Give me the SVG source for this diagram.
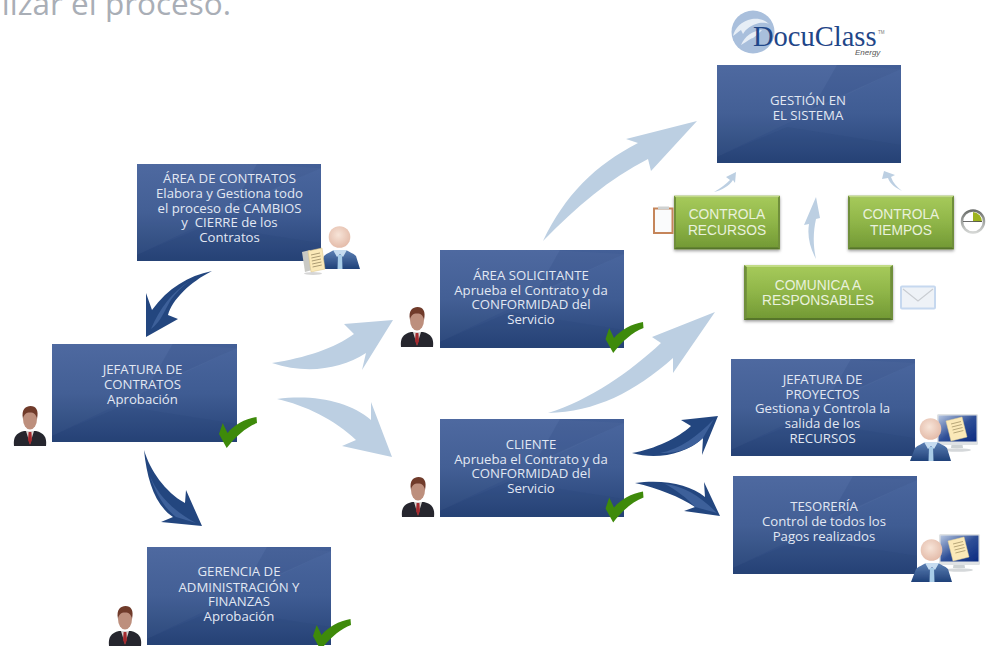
<svg xmlns="http://www.w3.org/2000/svg" width="994" height="646" viewBox="0 0 994 646">
<style>
text{font-family:"Open Sans","Liberation Sans",sans-serif}
.b{font-size:13.2px;fill:#e2e8f3;text-anchor:middle;white-space:pre}
.g{font-family:"Liberation Sans",Arial,sans-serif;font-size:13.8px;fill:#e9f1dc;text-anchor:middle}
.lt{fill:#bccfe2}
.dk{fill:#23467f}
.st{fill:#3d609a}
.title{font-size:31.5px;fill:#a9aeb6;text-anchor:end}
</style>
<defs>
<linearGradient id="bg" x1="0" y1="0" x2="0" y2="1"><stop offset="0" stop-color="#4a669e"/><stop offset=".5" stop-color="#3f5c93"/><stop offset="1" stop-color="#274377"/></linearGradient>
<linearGradient id="gg" x1="0" y1="0" x2="0" y2="1"><stop offset="0" stop-color="#a5c95a"/><stop offset=".5" stop-color="#8fb548"/><stop offset="1" stop-color="#739a35"/></linearGradient>
<linearGradient id="suit" x1="0" y1="0" x2="0" y2="1"><stop offset="0" stop-color="#5c80b4"/><stop offset="1" stop-color="#1f4179"/></linearGradient>
<linearGradient id="screen" x1="0" y1="0" x2="1" y2="1"><stop offset="0" stop-color="#b5c5e0"/><stop offset=".5" stop-color="#2f4f97"/><stop offset="1" stop-color="#0b2a80"/></linearGradient>
<linearGradient id="ring" x1="0" y1="0" x2="0" y2="1"><stop offset="0" stop-color="#6c6f6c"/><stop offset="1" stop-color="#d4d6d4"/></linearGradient>
<radialGradient id="head" cx=".45" cy=".4" r=".6"><stop offset="0" stop-color="#f7e4d8"/><stop offset="1" stop-color="#e4bcaa"/></radialGradient>
<filter id="soft" x="-15%" y="-15%" width="130%" height="130%"><feGaussianBlur stdDeviation=".7"/></filter>
<filter id="soft2" x="-10%" y="-10%" width="120%" height="120%"><feGaussianBlur stdDeviation=".3"/></filter>
<filter id="shadow" x="-10%" y="-10%" width="120%" height="125%"><feDropShadow dx="0" dy="1.5" stdDeviation="1.5" flood-color="#000" flood-opacity=".4"/></filter>
<symbol id="box" viewBox="0 0 184 98" preserveAspectRatio="none">
<rect width="184" height="98" fill="url(#bg)"/>
<polygon points="0,0 110,0 184,4 0,92" fill="#fff" opacity=".025"/>
<polygon points="120,0 184,0 184,4 95,44" fill="#1e3a70" opacity=".14"/>
<polygon points="0,92 70,62 184,80 184,98 0,98" fill="#1e3a70" opacity=".1"/>
</symbol>
<symbol id="green" viewBox="0 0 106 54" preserveAspectRatio="none">
<rect width="106" height="54" fill="#6f8f3a"/>
<rect x="2" y="2" width="102" height="50" fill="url(#gg)"/>
<polygon points="0,0 106,0 104,2 2,2" fill="#c2dc86"/>
<polygon points="0,54 106,54 104,52 2,52" fill="#57752a"/>
</symbol>
<symbol id="person" width="34" height="41" viewBox="0 0 34 41" overflow="visible">
<g filter="url(#soft)">
<path d="M1,40 C0,31 3,27 11,25 L23,25 C31,27 34,31 33,40Z" fill="#26282e"/>
<path d="M13,25 L21,25 L17,38Z" fill="#d9d6d4"/>
<path d="M15.600,26 L18.400,26 L19,34 L17,39 L15,34Z" fill="#a32a2e"/>
<ellipse cx="17" cy="13" rx="7" ry="10.500" fill="#bd8f7d"/>
<path d="M10,13 C8,3 13,0 17.500,0 C23,0 26,4 24,13 C23,8 21,6.500 17,6.500 C13,6.500 11,8 10,13Z" fill="#6f3a2c"/>
</g>
</symbol>
<symbol id="boss" width="41" height="43" viewBox="0 0 41 43" overflow="visible">
<g filter="url(#soft2)">
<path d="M0,43 L5,30 C8,27 12,26 15,24 L27,24 C30,26 34,27 37,30 L41,43Z" fill="url(#suit)"/>
<path d="M14,24 L28,24 L24,31 L21,28 L18,31Z" fill="#c6dcf0"/>
<path d="M19,29 L23,29 L23.500,43 L18.500,43Z" fill="#a9cde8"/>
<circle cx="20.500" cy="11" r="10.800" fill="url(#head)"/>
</g>
</symbol>
<symbol id="paper" width="24" height="28" viewBox="0 0 24 28" overflow="visible">
<g filter="url(#soft2)">
<polygon points="0,4 8,2 10,22 3,24" fill="#c9c9c4"/>
<polygon points="6,3 20,0 23,21 9,24" fill="#fbe9b8" stroke="#d9c287" stroke-width=".5"/>
<path d="M9,7 L18,5 M9.400,10 L18.600,8 M9.800,13 L19,11 M10.200,16 L19.400,14 M10.600,19 L19.800,17" stroke="#8a7a55" stroke-width=".7"/>
<ellipse cx="11" cy="25.500" rx="9" ry="1.500" fill="#bbb" opacity=".6"/>
</g>
</symbol>
<symbol id="monitor" width="41" height="38" viewBox="0 0 41 38" overflow="visible">
<g filter="url(#soft2)">
<polygon points="15,27 25,27 26,34 14,34" fill="#cdd2d4"/>
<ellipse cx="20" cy="36" rx="14" ry="1.800" fill="#d5d8da"/>
<rect x="0" y="0" width="41" height="31" rx="1.500" fill="#dfe2e4"/>
<rect x="1.500" y="1.500" width="38" height="26" fill="url(#screen)"/>
<polygon points="9,7 25,3 30,23 14,27" fill="#fbe9b8" stroke="#e6d49a" stroke-width=".5"/>
<path d="M14,10 L24,7.500 M14.800,13 L24.800,10.500 M15.600,16 L25.600,13.500 M16.400,19 L26.400,16.500" stroke="#9b8a5d" stroke-width=".7"/>
</g>
</symbol>
<symbol id="check" width="38" height="31" viewBox="0 0 38 31" overflow="visible">
<path d="M0,17 L3.700,6 L8.500,16 C15,8 26,2 37.500,0 L38,6 C27,10 16,20 7.700,31Z" fill="#3e8a0a"/>
</symbol>
</defs>

<text class="title" x="231" y="15">alizar el proceso.</text>

<g id="logo">
<circle cx="753" cy="32" r="21.500" fill="#a9bfdc"/>
<path d="M733,36 C735,28 741,21 752,19 C759,18 765,20 769,24 C764,22 759,23 756,24 C750,26 746,29 743,34 L741,30 C738,32 736,34 733,36Z" fill="#e7eef6"/>
<path d="M741,45 C745,36 752,31 762,30 C759,33 756,36 753,38 C751,38 748,41 741,45Z" fill="#e7eef6"/>
<text x="753" y="46" font-size="28.500" fill="#1f4688" style="font-family:'Liberation Serif',serif">DocuClass</text>
<text x="878" y="34" font-size="4.500" fill="#777" style="font-family:'Liberation Sans',sans-serif">TM</text>
<text x="855" y="55" font-size="8" font-style="italic" fill="#555" style="font-family:'Liberation Sans',sans-serif">Energy</text>
</g>

<g id="connectors">
<path class="lt" d="M543,241 C565,195 595,165 638,143 L626,139 L697,121 L651,171 L648,159 C610,178 575,208 543,241Z"/>
<path class="lt" d="M272,363 C305,358 335,348 354,334 L344,324 L393,320 L362,370 L366,353 C340,370 305,374 272,363Z"/>
<path class="lt" d="M277,399 C315,394 350,402 371,420 L371,402 L392,457 L342,446 L356,440 C335,420 305,405 277,399Z"/>
<path class="lt" d="M548,413 C590,400 630,372 661,343 L652,337 L715,312 L673,373 L673,358 C635,392 595,412 548,413Z"/>
<path class="lt" d="M714,192 C721,188 726,184 730,180 L726,177 L736,172 L735,183 L733,180 C729,186 722,190 714,192Z"/>
<path class="lt" d="M902,191 C896,188 890,184 888,178 L882,179 L884,171 L895,175 L891,177 C893,183 897,187 902,191Z"/>
<path class="lt" d="M816,259 C810,248 807,236 809,224 L804,225 L816,197 L820,218 L816,219 C813,232 813,246 816,259Z"/>
<path class="dk" d="M212,271 C188,276 168,288 152,310 L146,293 L146,337 L178,319 L168,315 C172,300 190,282 212,271Z"/>
<path class="st" d="M190,281 C172,292 160,308 151,329 C160,322 162,316 168,305 C172,297 180,288 190,281Z"/>
<path class="dk" d="M144,450 C150,470 165,492 185,503 L186,490 L202,526 L161,522 L173,517 C155,505 147,480 144,450Z"/>
<path class="st" d="M150,476 C158,495 172,510 196,523 L176,517 C164,508 155,492 150,476Z"/>
<path class="dk" d="M632,453 C655,449 678,438 691,426 L681,420 L718,416 L702,455 L703,438 C685,455 655,460 632,453Z"/>
<path class="st" d="M660,453 C680,449 697,437 714,419 L703,438 C693,448 677,454 660,453Z"/>
<path class="dk" d="M635,483 C665,479 690,485 705,497 L704,482 L720,516 L684,511 L695,507 C680,497 658,488 635,483Z"/>
<path class="st" d="M665,484 C685,486 702,498 717,513 L695,507 C687,498 676,490 665,484Z"/>
</g>

<g id="gestion"><use href="#box" x="717" y="65" width="184" height="98"/><text class="b"><tspan x="808" y="105">GESTIÓN EN</tspan><tspan x="808" y="120">EL SISTEMA</tspan></text></g>

<g id="area-contratos"><use href="#box" x="137" y="164" width="184" height="97"/>
<text class="b"><tspan x="229.500" y="182.500">ÁREA DE CONTRATOS</tspan><tspan x="229.500" y="197.500">Elabora y Gestiona todo</tspan><tspan x="229.500" y="212.500">el proceso de CAMBIOS</tspan><tspan x="229.500" y="227">y  CIERRE de los</tspan><tspan x="229.500" y="242">Contratos</tspan></text>
<use href="#boss" x="319" y="226"/><use href="#paper" x="302" y="248"/></g>

<g id="jefatura-contratos"><use href="#box" x="52" y="344" width="185" height="98"/>
<text class="b"><tspan x="142.500" y="374">JEFATURA DE</tspan><tspan x="142.500" y="389">CONTRATOS</tspan><tspan x="142.500" y="404">Aprobación</tspan></text>
<use href="#person" x="13" y="406"/><use href="#check" x="219" y="417"/></g>

<g id="gerencia"><use href="#box" x="147" y="547" width="184" height="98"/>
<text class="b"><tspan x="239" y="576">GERENCIA DE</tspan><tspan x="239" y="591.500">ADMINISTRACIÓN Y</tspan><tspan x="239" y="606">FINANZAS</tspan><tspan x="239" y="621">Aprobación</tspan></text>
<use href="#person" x="108" y="606"/><use href="#check" x="313" y="619"/></g>

<g id="area-solicitante"><use href="#box" x="440" y="250" width="184" height="98"/>
<text class="b"><tspan x="531" y="280">ÁREA SOLICITANTE</tspan><tspan x="531" y="294.500">Aprueba el Contrato y da</tspan><tspan x="531" y="309">CONFORMIDAD del</tspan><tspan x="531" y="324">Servicio</tspan></text>
<use href="#person" x="400" y="307"/><use href="#check" x="605.500" y="322"/></g>

<g id="cliente"><use href="#box" x="440" y="419" width="184" height="98"/>
<text class="b"><tspan x="531" y="449">CLIENTE</tspan><tspan x="531" y="464">Aprueba el Contrato y da</tspan><tspan x="531" y="478">CONFORMIDAD del</tspan><tspan x="531" y="493">Servicio</tspan></text>
<use href="#person" x="401" y="477"/><use href="#check" x="605.500" y="491.500"/></g>

<g id="jefatura-proyectos"><use href="#box" x="731" y="359" width="184" height="97"/>
<text class="b"><tspan x="822.500" y="384">JEFATURA DE</tspan><tspan x="822.500" y="398.500">PROYECTOS</tspan><tspan x="822.500" y="413">Gestiona y Controla la</tspan><tspan x="822.500" y="428">salida de los</tspan><tspan x="822.500" y="442.500">RECURSOS</tspan></text>
<use href="#monitor" x="937" y="414"/><use href="#boss" x="910" y="418"/></g>

<g id="tesoreria"><use href="#box" x="733" y="476" width="184" height="98"/>
<text class="b"><tspan x="824" y="511">TESORERÍA</tspan><tspan x="824" y="526">Control de todos los</tspan><tspan x="824" y="541">Pagos realizados</tspan></text>
<use href="#monitor" x="939" y="534"/><use href="#boss" x="911" y="539"/></g>

<g id="controla-recursos">
<use href="#green" x="674" y="195.500" width="106" height="54" filter="url(#shadow)"/>
<text class="g"><tspan x="727" y="219">CONTROLA</tspan><tspan x="727" y="235">RECURSOS</tspan></text>
<rect x="654" y="208.500" width="18.500" height="24.500" fill="#fafbfc" stroke="#c5855a" stroke-width="2"/>
<rect x="658" y="206.500" width="11" height="3" fill="#cfd2d2"/>
</g>
<g id="controla-tiempos">
<use href="#green" x="848" y="195.500" width="106" height="54" filter="url(#shadow)"/>
<text class="g"><tspan x="901" y="219">CONTROLA</tspan><tspan x="901" y="235">TIEMPOS</tspan></text>
<circle cx="973" cy="221.500" r="11" fill="#fff" stroke="url(#ring)" stroke-width="2.500"/>
<path d="M973,221.500 L973,212 A9.500,9.500 0 0 1 982,222Z" fill="#9db31e"/>
<path d="M963,221.500 L982,221.500" stroke="#444" stroke-width=".8"/>
</g>
<g id="comunica">
<use href="#green" x="744" y="265" width="149" height="55" filter="url(#shadow)"/>
<text class="g"><tspan x="818" y="289.500">COMUNICA A</tspan><tspan x="818" y="305">RESPONSABLES</tspan></text>
<rect x="901" y="286.500" width="34" height="22" rx="1" fill="#eef2f7" stroke="#c6d8ef" stroke-width="2"/>
<path d="M903,289 L918,301 L933,289" fill="none" stroke="#c9cdd2" stroke-width="1.200"/>
</g>
</svg>
